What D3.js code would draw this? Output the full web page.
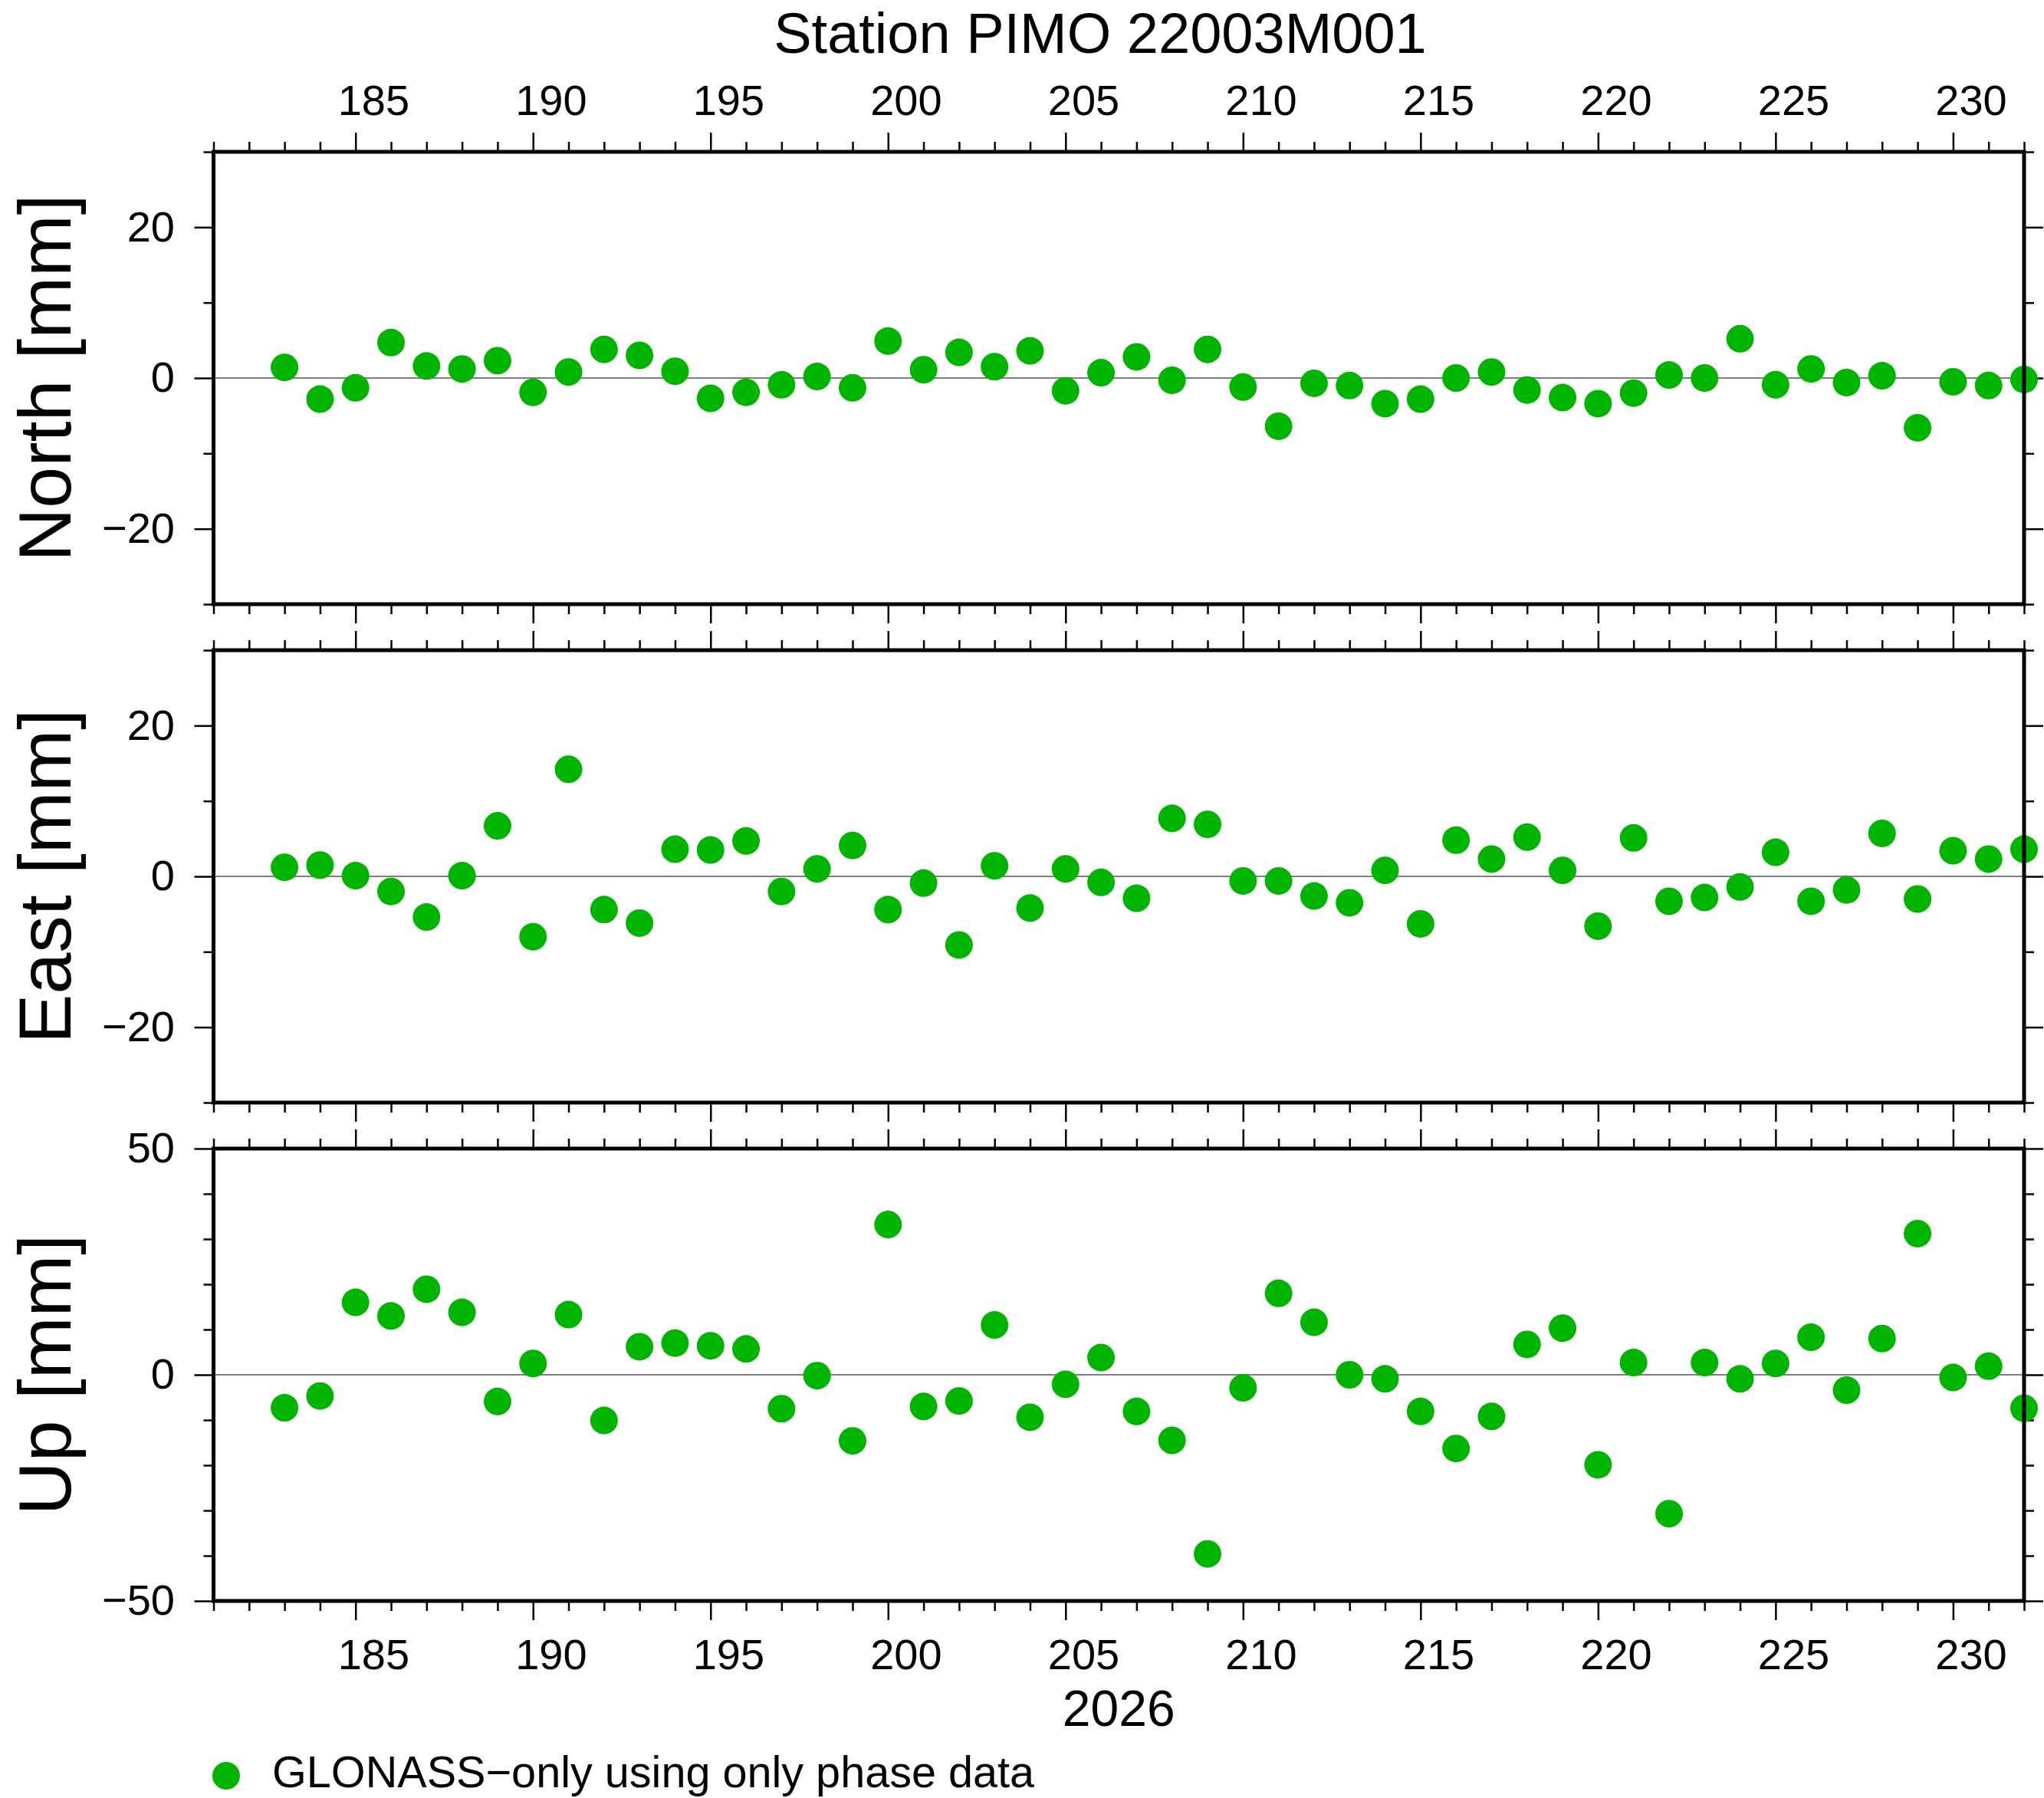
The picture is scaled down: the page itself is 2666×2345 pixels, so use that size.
<!DOCTYPE html>
<html>
<head>
<meta charset="utf-8">
<script src="https://cdn.jsdelivr.net/npm/d3@7"></script>
<style>
html, body { margin: 0; padding: 0; background: #fff; }
svg { display: block; font-family: "Liberation Sans", Arial, Helvetica, sans-serif; }
</style>
</head>
<body>
<script>
// ---------- data ----------
const title = "Station PIMO 22003M001";
const yearLabel = "2026";
const legendLabel = "GLONASS\u2212only using only phase data";
const days = [183,184,185,186,187,188,189,190,191,192,
              193,194,195,196,197,198,199,200,201,202,
              203,204,205,206,207,208,209,210,211,212,
              213,214,215,216,217,218,219,220,221,222,
              223,224,225,226,227,228,229,230,231,232];
const north = [1.4,-2.8,-1.3,4.7,1.6,1.2,2.3,-1.9,0.8,3.8,
               3.0,0.9,-2.7,-1.9,-0.9,0.2,-1.3,4.9,1.1,3.4,
               1.5,3.6,-1.7,0.7,2.8,-0.3,3.8,-1.2,-6.4,-0.7,
               -1.0,-3.4,-2.8,0.0,0.8,-1.6,-2.6,-3.4,-2.0,0.4,
               0.0,5.2,-0.9,1.2,-0.6,0.3,-6.6,-0.5,-1.0,-0.2];
const east = [1.2,1.5,0.1,-2.0,-5.4,0.1,6.7,-8.0,14.2,-4.4,
              -6.2,3.6,3.5,4.7,-2.0,1.0,4.1,-4.4,-0.9,-9.1,
              1.4,-4.2,1.0,-0.8,-2.9,7.7,6.9,-0.6,-0.6,-2.6,
              -3.5,0.8,-6.3,4.8,2.3,5.2,0.8,-6.6,5.1,-3.3,
              -2.8,-1.4,3.2,-3.3,-1.8,5.7,-3.0,3.4,2.3,3.6];
const up = [-7.3,-4.7,16.0,13.0,18.9,13.8,-5.9,2.5,13.3,-10.1,
            6.2,7.0,6.4,5.7,-7.5,-0.2,-14.6,33.2,-7.0,-5.8,
            11.0,-9.4,-2.1,3.8,-8.1,-14.5,-39.6,-2.9,18.0,11.6,
            0.0,-0.9,-8.1,-16.3,-9.2,6.7,10.3,-19.9,2.7,-30.7,
            2.7,-0.9,2.5,8.3,-3.4,8.0,31.2,-0.6,1.9,-7.4];
const xDomain = [181, 232];
const xMajorTicks = [185,190,195,200,205,210,215,220,225,230];
const xMinorTicks = [181,182,183,184,186,187,188,189,191,192,193,194,196,197,198,199,
                     201,202,203,204,206,207,208,209,211,212,213,214,216,217,218,219,
                     221,222,223,224,226,227,228,229,231,232];
const panelNames = ["North [mm]", "East [mm]", "Up [mm]"];
const panelDomains = [[-30,30],[-30,30],[-50,50]];
const panelMajor = [[-20,0,20],[-20,0,20],[-50,0,50]];
const panelMinor = [[-30,-10,10,30],[-30,-10,10,30],[-40,-30,-20,-10,10,20,30,40]];
const panelValues = [north, east, up];

// ---------- layout ----------
const W = 2666, H = 2345;
const left = 278.5, right = 2640;
const panelTops = [198, 848, 1498];
const panelH = 590;
const green = "#00b400";
const tickFont = 56;

const svg = d3.select("body").append("svg")
  .attr("width", W).attr("height", H).attr("viewBox", `0 0 ${W} ${H}`);

const x = d3.scaleLinear().domain(xDomain).range([left, right]);
const halfDay = x(xDomain[0] + 0.5) - x(xDomain[0]);

function drawTicks(g, axisGen, scale, vals, size, fmt, pad) {
  const a = axisGen(scale).tickValues(vals).tickSizeInner(size).tickSizeOuter(0)
    .tickPadding(pad || 0)
    .tickFormat(fmt || (() => ""));
  g.call(a);
  g.select(".domain").remove();
  g.selectAll(".tick line").attr("stroke", "#000").attr("stroke-width", 2.5);
  g.selectAll(".tick text").attr("fill", "#000").attr("font-size", tickFont)
    .attr("font-family", '"Liberation Sans", Arial, Helvetica, sans-serif');
  if (!fmt) g.selectAll(".tick text").remove();
  return g;
}
const xFmt = d3.format("d");
const yFmt = d => d < 0 ? "\u2212" + Math.abs(d) : String(d);

panelValues.forEach((vals, i) => {
  const top = panelTops[i], bottom = top + panelH;
  const y = d3.scaleLinear().domain(panelDomains[i]).range([bottom, top]);
  const g = svg.append("g");

  // zero line
  g.append("line").attr("x1", left).attr("x2", right)
    .attr("y1", y(0)).attr("y2", y(0))
    .attr("stroke", "#000").attr("stroke-width", 1.2);

  // top ticks
  const gt = g.append("g").attr("transform", `translate(0,${top})`);
  drawTicks(gt.append("g"), d3.axisTop, x, xMajorTicks, 25, i === 0 ? xFmt : null, 23.5)
    .selectAll(".tick text").attr("dx", halfDay);
  drawTicks(gt.append("g"), d3.axisTop, x, xMinorTicks, 13, null);
  // bottom ticks
  const gb = g.append("g").attr("transform", `translate(0,${bottom})`);
  drawTicks(gb.append("g"), d3.axisBottom, x, xMajorTicks, 25, i === 2 ? xFmt : null, 24.7)
    .selectAll(".tick text").attr("dx", halfDay);
  drawTicks(gb.append("g"), d3.axisBottom, x, xMinorTicks, 13, null);
  // left ticks
  const gl = g.append("g").attr("transform", `translate(${left},0)`);
  drawTicks(gl.append("g"), d3.axisLeft, y, panelMajor[i], 25, yFmt, 25.5);
  drawTicks(gl.append("g"), d3.axisLeft, y, panelMinor[i], 13, null);
  // right ticks
  const gr = g.append("g").attr("transform", `translate(${right},0)`);
  drawTicks(gr.append("g"), d3.axisRight, y, panelMajor[i], 25, null);
  drawTicks(gr.append("g"), d3.axisRight, y, panelMinor[i], 13, null);

  // points
  g.append("g").selectAll("circle").data(days.map((d, k) => [d, vals[k]]))
    .join("circle")
    .attr("cx", d => x(d[0])).attr("cy", d => y(d[1])).attr("r", 18)
    .attr("fill", green);

  // frame
  g.append("rect").attr("x", left).attr("y", top)
    .attr("width", right - left).attr("height", panelH)
    .attr("fill", "none").attr("stroke", "#000").attr("stroke-width", 5);

  // y title
  g.append("text")
    .attr("transform", `translate(92,${(top + bottom) / 2}) rotate(-90)`)
    .attr("text-anchor", "middle").attr("font-size", 97).attr("fill", "#000")
    .text(panelNames[i]);
});

// title
svg.append("text").attr("x", 1435).attr("y", 69).attr("text-anchor", "middle")
  .attr("font-size", 74).attr("fill", "#000").text(title);

// year label
svg.append("text").attr("x", (left + right) / 2).attr("y", 2251).attr("text-anchor", "middle")
  .attr("font-size", 66).attr("fill", "#000").text(yearLabel);

// legend
svg.append("circle").attr("cx", 295).attr("cy", 2316).attr("r", 18).attr("fill", green);
svg.append("text").attr("x", 355).attr("y", 2331).attr("font-size", 57.6).attr("fill", "#000")
  .text(legendLabel);
</script>
</body>
</html>
